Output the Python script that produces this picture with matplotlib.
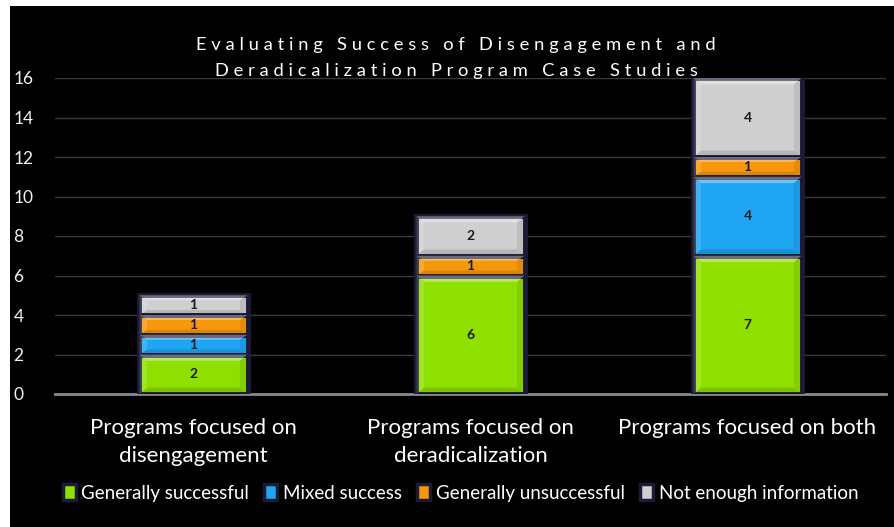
import matplotlib.pyplot as plt
from matplotlib.patches import Rectangle, Polygon
import numpy as np

categories = ["Programs focused on\ndisengagement", "Programs focused on\nderadicalization", "Programs focused on both"]
series_names = ["Generally successful", "Mixed success", "Generally unsuccessful", "Not enough information"]
values = {
    "Generally successful": [2, 6, 7],
    "Mixed success": [1, 0, 4],
    "Generally unsuccessful": [1, 1, 1],
    "Not enough information": [1, 2, 4],
}
colors = ["#8fe000", "#1ea6f2", "#f7980c", "#cfcfcf"]
yticks = [0, 2, 4, 6, 8, 10, 12, 14, 16]

plt.rcParams['font.family'] = ['Lato', 'DejaVu Sans']

fig = plt.figure(figsize=(8.94, 5.27), dpi=100, facecolor='white')
# black chart area with thin white margin at left/top
fig.patches.append(Rectangle((10 / 894, 0), 1, 521 / 527, transform=fig.transFigure,
                             facecolor='black', edgecolor='none', zorder=-5))
ax = fig.add_axes([55 / 894, 1 - 394 / 527, 831 / 894, 316 / 527])
ax.set_facecolor('none')
ax.set_zorder(2)

x = np.arange(len(categories))
bottom = np.zeros(len(categories))
width = 0.39
for name, col in zip(series_names, colors):
    vals = np.array(values[name], dtype=float)
    bars = ax.bar(x, vals, width, bottom=bottom, color=col, edgecolor='#1c1b36', linewidth=3.5, zorder=3)
    for b, v in zip(bars, vals):
        if v <= 0:
            continue
        bx, by, bw, bh = b.get_x(), b.get_y(), b.get_width(), b.get_height()
        # bevel on four sides
        ix = bw * 0.07
        iy = min(bh * 0.25, 0.32)
        x0, x1, y0, y1 = bx, bx + bw, by, by + bh
        bevels = [
            ([(x0, y1), (x1, y1), (x1 - ix, y1 - iy), (x0 + ix, y1 - iy)], 'white', 0.35),
            ([(x0, y0), (x1, y0), (x1 - ix, y0 + iy), (x0 + ix, y0 + iy)], 'black', 0.12),
            ([(x0, y0), (x0, y1), (x0 + ix, y1 - iy), (x0 + ix, y0 + iy)], 'white', 0.15),
            ([(x1, y0), (x1, y1), (x1 - ix, y1 - iy), (x1 - ix, y0 + iy)], 'black', 0.08),
        ]
        for pts, fc, a in bevels:
            ax.add_patch(Polygon(pts, closed=True, facecolor=fc, alpha=a, edgecolor='none', zorder=4))
        ax.text(bx + bw / 2, by + bh / 2, f"{int(v)}", ha='center', va='center',
                fontsize=10, fontweight='bold', color='#1a1a1a', zorder=5)
    bottom += vals

ax.set_xlim(-0.5, 2.5)
ax.set_ylim(0, 16)
ax.set_yticks(yticks)
ax.yaxis.grid(True, color='#3a3a3a', linewidth=1, zorder=0)
ax.set_axisbelow(True)
for s in ['top', 'right', 'left']:
    ax.spines[s].set_visible(False)
ax.spines['bottom'].set_color('#8a8a8a')
ax.spines['bottom'].set_linewidth(2)
ax.tick_params(axis='y', length=0, colors='#f2f2f2', labelsize=12.5, pad=30)
ax.tick_params(axis='x', length=0, colors='white', labelsize=16, pad=17)
ax.set_xticks(x)
ax.set_xticklabels(categories, linespacing=1.5)
for t in ax.get_yticklabels():
    t.set_horizontalalignment('left')

fig.text(0.51, 1 - 58 / 527, "E v a l u a t i n g   S u c c e s s   o f   D i s e n g a g e m e n t   a n d\nD e r a d i c a l i z a t i o n   P r o g r a m   C a s e   S t u d i e s",
         ha='center', va='center', color='white', fontsize=13.2, linespacing=1.8, zorder=6)

handles = [Rectangle((0, 0), 1, 1, facecolor=c, edgecolor='#1c1b36', linewidth=2.5) for c in colors]
fig.legend(handles, series_names, loc='center', bbox_to_anchor=(0.515, 1 - 493 / 527), ncol=4,
           frameon=False, fontsize=13.5, labelcolor='white', handlelength=0.7, handleheight=0.9,
           handletextpad=0.3, columnspacing=0.8)

fig.savefig('out.png', dpi=100, facecolor='white')
